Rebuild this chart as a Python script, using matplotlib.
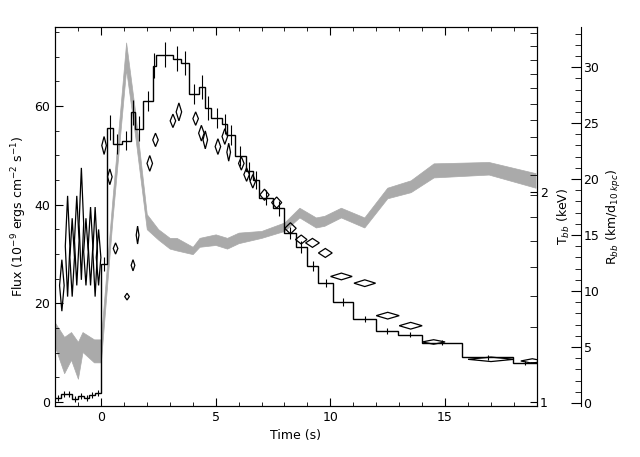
import numpy as np
import matplotlib
matplotlib.use("Agg")
import matplotlib.pyplot as plt
from matplotlib.patches import Polygon
from matplotlib.ticker import MultipleLocator, FixedLocator, NullFormatter

plt.rcParams['font.family'] = 'DejaVu Sans'
plt.rcParams['font.size'] = 9

# flux light curve (step histogram)
edges = [-2.0, -1.75, -1.5, -1.25, -1.0, -0.75, -0.5, -0.25,
         0.0, 0.26, 0.52, 0.9, 1.3, 1.48, 1.84, 2.27, 2.4, 3.15, 3.5, 3.85, 4.28,
         4.53, 4.81, 5.29, 5.5, 5.83, 6.33, 6.62, 6.9, 7.5, 8.0, 8.5, 8.97, 9.48,
         10.1, 11.0, 12.0, 12.96, 14.0, 15.74, 17.96, 19.0]
flux = [0.8, 1.6, 1.6, 0.6, 1.2, 0.8, 1.4, 1.8,
        28.0, 55.6, 52.3, 53.0, 58.7, 55.4, 61.0, 68.2, 70.4, 69.6, 68.7, 62.4,
        63.9, 59.6, 57.6, 56.4, 54.2, 49.9, 46.9, 45.0, 41.4, 39.3, 34.2, 31.5,
        27.6, 24.1, 20.3, 16.8, 14.4, 13.6, 12.0, 9.1, 7.9]
flux_err = [0.6] * 8 + [1.5, 2.5, 2.0, 2.0, 2.5, 2.5, 2.0, 2.5, 2.5, 2.5, 2.5,
                        2.0, 2.5, 2.5, 2.0, 2.0, 2.0, 2.0, 1.8, 1.8, 1.5, 1.5,
                        1.2, 1.2, 1.0, 0.8, 0.8, 0.6, 0.6, 0.5, 0.5, 0.5, 0.4]

# blackbody temperature band (keV)
t_band = [-2.0, -1.6, -1.3, -1.0, -0.8, -0.3, 0.0, 0.5, 1.1, 1.5, 2.0, 2.5, 3.0,
          3.3, 4.0, 4.3, 5.0, 5.5, 6.0, 7.0, 8.0, 8.65, 9.37, 9.74, 10.46, 11.48,
          12.48, 13.5, 14.5, 16.9, 18.94]
T_hi = [1.30, 1.24, 1.26, 1.22, 1.26, 1.23, 1.23, 1.95, 3.28, 2.60, 1.86, 1.77,
        1.72, 1.72, 1.67, 1.72, 1.74, 1.72, 1.75, 1.76, 1.81, 1.90, 1.84, 1.85,
        1.90, 1.84, 2.03, 2.08, 2.20, 2.21, 2.13]
T_lo = [1.20, 1.10, 1.15, 1.08, 1.18, 1.14, 1.14, 1.82, 3.00, 2.40, 1.77, 1.71,
        1.66, 1.65, 1.63, 1.67, 1.68, 1.66, 1.69, 1.72, 1.76, 1.84, 1.78, 1.79,
        1.84, 1.78, 1.96, 2.00, 2.10, 2.12, 2.03]

# blackbody radius (km / d_10kpc), diamonds: centre, half-width (s), half-height
t_R = [-1.7, -1.45, -1.25, -1.05, -0.85, -0.65, -0.45, -0.25, -0.1,
       0.14, 0.39, 0.64, 1.14, 1.40, 1.60, 2.13, 2.38, 3.14, 3.40, 4.13, 4.38,
       4.55, 5.10, 5.40, 5.57, 6.12, 6.35, 6.62, 7.13, 7.66, 8.26, 8.73, 9.22,
       9.78, 10.48, 11.5, 12.5, 13.5, 14.5, 17.0, 18.8]
R = [10.5, 14.0, 13.0, 14.5, 16.0, 13.5, 14.0, 13.5, 13.0,
     23.0, 20.2, 13.8, 9.5, 12.3, 15.0, 21.4, 23.5, 25.2, 26.0, 25.4, 24.1,
     23.5, 22.9, 23.8, 22.4, 21.4, 20.4, 19.8, 18.6, 17.9, 15.6, 14.6, 14.3,
     13.4, 11.3, 10.7, 7.8, 6.9, 5.45, 3.9, 3.75]
R_dt = [0.1] * 9 + [0.1, 0.1, 0.1, 0.1, 0.08, 0.06, 0.12, 0.12, 0.12, 0.12,
                    0.12, 0.12, 0.1, 0.12, 0.12, 0.08, 0.12, 0.12, 0.12, 0.2,
                    0.22, 0.25, 0.25, 0.3, 0.3, 0.47, 0.47, 0.5, 0.5, 0.5, 1.0, 0.5]
R_err = [2.3, 4.5, 3.5, 4.0, 5.0, 3.0, 3.5, 4.0, 2.5,
         0.8, 0.7, 0.5, 0.3, 0.5, 0.8, 0.7, 0.6, 0.6, 0.8, 0.6, 0.7, 0.8, 0.7,
         0.7, 0.8, 0.6, 0.6, 0.6, 0.5, 0.5, 0.5, 0.4, 0.4, 0.4, 0.3, 0.3, 0.3,
         0.3, 0.2, 0.2, 0.2]

fig = plt.figure(figsize=(6.4, 4.57), dpi=100)
ax = fig.add_axes([0.0859, 0.1116, 0.753, 0.829])

ax.stairs(flux, edges, color='black', lw=1.0, baseline=None)
centers = [(edges[i] + edges[i + 1]) / 2 for i in range(len(flux))]
ax.errorbar(centers, flux, yerr=flux_err, fmt='none', ecolor='black', elinewidth=0.8)
ax.set_xlim(-2, 19)
ax.set_ylim(-0.8, 76)
ax.set_xlabel('Time (s)')
ax.set_ylabel('Flux (10$^{-9}$ ergs cm$^{-2}$ s$^{-1}$)')
ax.xaxis.set_major_locator(MultipleLocator(5))
ax.xaxis.set_minor_locator(MultipleLocator(1))
ax.yaxis.set_major_locator(MultipleLocator(20))
ax.yaxis.set_minor_locator(MultipleLocator(5))
ax.tick_params(which='both', direction='in', top=True, right=False)
ax.tick_params(which='major', length=6)
ax.tick_params(which='minor', length=3)

# temperature axis (log)
axT = ax.twinx()
axT.set_yscale('log')
axT.set_ylim(0.987, 3.45)
axT.fill_between(t_band, T_lo, T_hi, color='#aaaaaa', lw=0.5, edgecolor='#aaaaaa')
axT.yaxis.set_major_locator(FixedLocator([1, 2]))
axT.yaxis.set_major_formatter(matplotlib.ticker.FixedFormatter(['1', '2']))
axT.yaxis.set_minor_locator(FixedLocator(list(np.arange(1.0, 3.45, 0.14))))
axT.yaxis.set_minor_formatter(NullFormatter())
axT.tick_params(which='both', direction='in', length=5, pad=2)
axT.set_ylabel('T$_{bb}$ (keV)', labelpad=6)

# radius axis
axR = ax.twinx()
axR.spines['right'].set_position(('axes', 1.091))
for s in ['left', 'top', 'bottom']:
    axR.spines[s].set_visible(False)
axR.set_ylim(-0.27, 33.57)
for tc, rc, dt, er in zip(t_R, R, R_dt, R_err):
    axR.add_patch(Polygon([(tc - dt, rc), (tc, rc + er), (tc + dt, rc), (tc, rc - er)],
                          closed=True, fill=False, ec='black', lw=0.9))
axR.yaxis.set_major_locator(MultipleLocator(5))
axR.yaxis.set_minor_locator(MultipleLocator(1))
axR.tick_params(which='both', direction='in', pad=2)
axR.tick_params(which='major', length=7)
axR.tick_params(which='minor', length=4)
axR.set_ylabel('R$_{bb}$ (km/d$_{10\\ kpc}$)')

ax.set_zorder(axT.get_zorder() + 1)
ax.patch.set_visible(False)
axR.set_zorder(ax.get_zorder() + 1)
axR.patch.set_visible(False)

fig.savefig('out.png', dpi=100)
